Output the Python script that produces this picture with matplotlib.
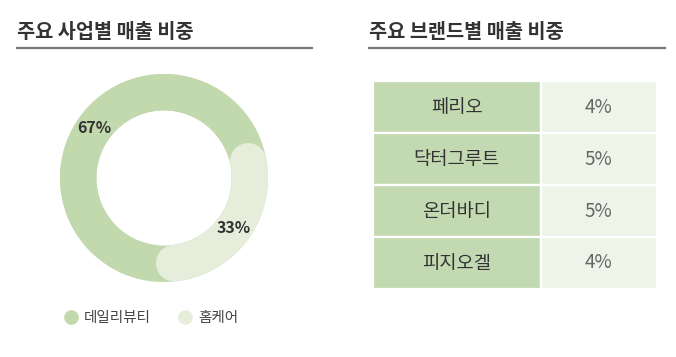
import matplotlib
matplotlib.use("Agg")
import matplotlib.pyplot as plt
import numpy as np
from matplotlib.patches import Wedge, Circle
from matplotlib.lines import Line2D

plt.rcParams['font.family'] = ['Noto Sans CJK KR', 'DejaVu Sans']

# 데이터
biz_labels = ['데일리뷰티', '홈케어']
biz_values = [67, 33]
brand_names = ['페리오', '닥터그루트', '온더바디', '피지오겔']
brand_shares = ['4%', '5%', '5%', '4%']

GREEN = '#c2d8ad'
LIGHT = '#e6eedb'
TAB_L = '#c3d9b1'
TAB_R = '#eef5e8'
W, H = 676, 357

fig = plt.figure(figsize=(W / 100, H / 100), dpi=100)

def fx(px):
    return px / W

def fy(py):
    return 1 - py / H

# 제목 + 밑줄
for x0, x1, title in [(17, 312, '주요 사업별 매출 비중'), (369, 665, '주요 브랜드별 매출 비중')]:
    fig.text(fx(x0), fy(32), title, fontsize=14.2, fontweight='bold',
             color='#333333', va='center', ha='left')
    fig.add_artist(Line2D([fx(x0), fx(x1)], [fy(48), fy(48)], color='#777777', lw=1.6))

# 도넛
cx, cy, R = 164, 178, 104
half = 1.2 * R
ax = fig.add_axes([fx(cx - half), fy(cy + half), 2 * half / W, 2 * half / H])
ring_w = 0.35
ax.add_patch(Wedge((0, 0), 1, 0, 360, width=ring_w, color=GREEN, lw=0, zorder=0))
wedges, texts, autotexts = ax.pie(
    biz_values, colors=[GREEN, LIGHT], startangle=23.4, counterclock=True,
    radius=1, wedgeprops=dict(width=ring_w, linewidth=0),
    autopct='%d%%', pctdistance=1 - ring_w / 2,
    textprops=dict(fontsize=11.5, fontweight='semibold', color='#333333'))
for t in autotexts:
    t.set_zorder(5)
# 홈케어 조각 끝을 둥글게
wl = wedges[1]
mid_r = 1 - ring_w / 2
cap = np.degrees((ring_w / 2) / mid_r)
t1, t2 = wl.theta1 + cap, wl.theta2 - cap
wl.set_theta1(t1)
wl.set_theta2(t2)
wl.set_zorder(2)
for th in (t1, t2):
    ax.add_patch(Circle((mid_r * np.cos(np.radians(th)), mid_r * np.sin(np.radians(th))),
                        ring_w / 2, color=LIGHT, lw=0, zorder=2))
ax.set_xlim(-1.2, 1.2)
ax.set_ylim(-1.2, 1.2)
ax.set_aspect('equal')
ax.axis('off')

# 범례
handles = [Line2D([], [], marker='o', ls='', markersize=9.5, color=c) for c in (GREEN, LIGHT)]
fig.legend(handles, biz_labels, loc='center left', bbox_to_anchor=(fx(58), fy(318)),
           ncol=2, frameon=False, fontsize=10.5, handlelength=1, handletextpad=0.35,
           columnspacing=1.9, labelcolor='#444444', borderaxespad=0)

# 표
tx0, ty0, tx1, ty1 = 373, 81, 657, 289
tax = fig.add_axes([fx(tx0), fy(ty1), (tx1 - tx0) / W, (ty1 - ty0) / H])
tax.axis('off')
cells = [[n, s] for n, s in zip(brand_names, brand_shares)]
tbl = tax.table(cellText=cells, cellColours=[[TAB_L, TAB_R]] * len(cells),
                cellLoc='center', bbox=[0, 0, 1, 1], colWidths=[0.59, 0.41])
tbl.auto_set_font_size(False)
for (r, c), cell in tbl.get_celld().items():
    cell.set_edgecolor('white')
    cell.set_linewidth(1.6)
    cell.get_text().set_fontsize(13.5)
    cell.get_text().set_color('#333333' if c == 0 else '#666666')

fig.savefig('out.png', dpi=100)
